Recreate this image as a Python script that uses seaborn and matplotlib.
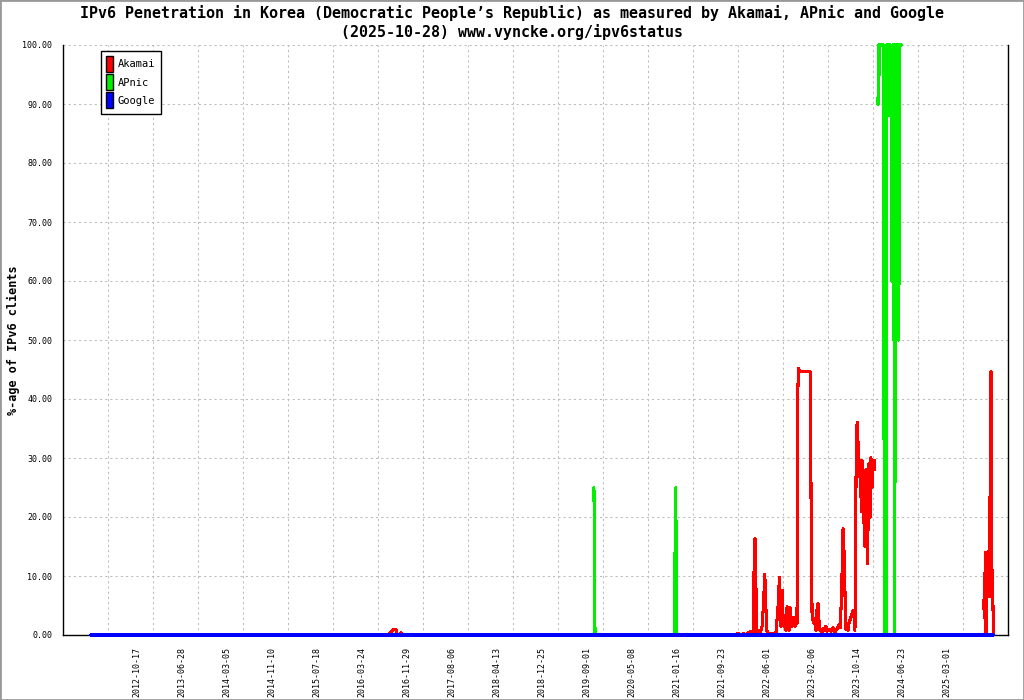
import numpy as np
import pandas as pd
import matplotlib
matplotlib.use("Agg")
import matplotlib.pyplot as plt
import matplotlib.transforms as mtransforms
from matplotlib.patches import Patch, Rectangle
from matplotlib.ticker import FormatStrFormatter
import seaborn as sns

# ---------------- data ----------------
# x axis is the sample number of the daily series (250 samples between ticks)
tick_dates = ["2012-10-17", "2013-06-28", "2014-03-05", "2014-11-10", "2015-07-18",
              "2016-03-24", "2016-11-29", "2017-08-06", "2018-04-13", "2018-12-25",
              "2019-09-01", "2020-05-08", "2021-01-16", "2021-09-23", "2022-06-01",
              "2023-02-06", "2023-10-14", "2024-06-23", "2025-03-01"]
samples_per_tick = 250
n_intervals = 21

nan = np.nan
akamai_sample = [154, 1809, 1815, 1826, 1837, 1848, 1854, 1871, 1876, 1884,
                 3737, 3748, 3754, 3782, 3787, 3809, 3821, 3832, 3837, 3843,
                 3848, 3854, 3871, 3882, 3890, 3897, 3903, 3907, 3915, 3937,
                 3959, 3973, 3978, 3983, 3987, 3993, 3998, 4004, 4009, 4015,
                 4021, 4026, 4032, 4037, 4043, 4048, 4054, 4059, 4065, 4071,
                 4076, 4081, 4084, 4090, 4151, 4154, 4160, 4165, 4171, 4176,
                 4182, 4187, 4193, 4198, 4204, 4215, 4221, 4232, 4237, 4243,
                 4254, 4265, 4276, 4287, 4298, 4309, 4315, 4323, 4332, 4340,
                 4346, 4354, 4360, 4365, 4373, 4382, 4390, 4398, 4406, 4412,
                 4418, 4423, 4429, 4433, 4437, 4443, 4446, 4450, 4454, 4459,
                 4465, 4469, 4473, 4478, 4482, 4487, 4493, 4498, 4504, 4509,
                 nan,
                 5112, 5118, 5122, 5126, 5130, 5133, 5139, 5144, 5150, 5154,
                 5158, 5162, 5167]
akamai_value = [0.0, 0.0, 0.3, 0.6, 1.0, 1.0, 0.0, 0.0, 0.4, 0.0,
                0.0, 0.3, 0.0, 0.2, 0.0, 0.4, 0.6, 0.3, 10.3, 16.3,
                8.1, 0.5, 0.3, 1.5, 5.1, 10.3, 5.1, 0.8, 0.3, 0.2,
                0.3, 5.6, 9.8, 3.8, 1.4, 7.6, 3.5, 1.4, 2.0, 0.8,
                4.8, 4.6, 0.8, 4.7, 1.4, 2.0, 3.0, 2.5, 1.4, 2.6,
                2.0, 41.5, 45.2, 44.6, 44.6, 23.6, 2.7, 2.7, 2.0, 2.8,
                0.8, 4.2, 5.3, 2.5, 0.8, 0.5, 1.1, 0.8, 1.5, 0.6,
                1.0, 0.6, 1.2, 0.5, 1.0, 1.7, 1.2, 6.0, 18.0, 12.1,
                1.0, 1.4, 0.8, 2.0, 2.8, 3.7, 4.2, 0.8, 35.0, 36.0,
                29.0, 26.8, 29.6, 21.0, 29.6, 28.0, 19.0, 24.0, 15.0, 28.0,
                24.0, 12.1, 29.0, 27.0, 20.0, 30.0, 25.0, 29.5, 28.0, 29.5,
                nan,
                5.9, 2.9, 14.0, 0.0, 14.0, 9.6, 14.2, 6.5, 28.8, 44.7,
                7.0, 11.0, 0.4]

apnic_sample = [2948, 2951, 2954, 3393, 3398, 3403, 3406,
                nan,
                4526, 4529, 4533, 4537, 4557, 4561, 4571, 4575, 4579, 4583,
                4587, 4593, 4597, 4604, 4607, 4611, 4615, 4618, 4621, 4624,
                4628, 4632, 4635, 4639, 4642, 4645, 4654]
apnic_value = [25.0, 12.5, 0.0, 0.0, 12.5, 25.0, 0.0,
               nan,
               90.0, 100.0, 95.0, 100.0, 100.0, 0.0, 0.0, 100.0, 100.0, 88.0,
               100.0, 94.0, 100.0, 60.0, 100.0, 50.0, 100.0, 0.0, 33.0, 100.0,
               50.0, 100.0, 66.0, 100.0, 50.0, 100.0, 100.0]

google_sample = [154, 5167]
google_value = [0.0, 0.0]

series_names = ["Akamai", "APnic", "Google"]
series_colors = ["#ff0000", "#00f000", "#0000ff"]

title_line1 = "IPv6 Penetration in Korea (Democratic People\u2019s Republic) as measured by Akamai, APnic and Google"
title_line2 = "(2025-10-28) www.vyncke.org/ipv6status"
y_label = "%-age of IPv6 clients"


def to_frame(samples, values):
    rows, seg = [], 0
    for s, v in zip(samples, values):
        if np.isnan(s) or np.isnan(v):
            seg += 1
            continue
        rows.append((s, v, seg))
    return pd.DataFrame(rows, columns=["sample", "value", "seg"])


# ---------------- style ----------------
sns.set_theme(style="white")
plt.rcParams["font.family"] = ["DejaVu Sans Mono", "DejaVu Sans"]
plt.rcParams["text.color"] = "black"
plt.rcParams["axes.labelcolor"] = "black"

fig = plt.figure(figsize=(10.24, 7), dpi=100)
fig.patch.set_facecolor("white")
ax = fig.add_axes([63.3 / 1024, 65 / 700, 945 / 1024, 590 / 700])
ax.set_facecolor("white")

frames = [to_frame(akamai_sample, akamai_value),
          to_frame(apnic_sample, apnic_value),
          to_frame(google_sample, google_value)]
for df, col in zip(frames, series_colors):
    sns.lineplot(data=df, x="sample", y="value", units="seg", estimator=None,
                 sort=False, color=col, linewidth=1.5, antialiased=False,
                 ax=ax, legend=False, zorder=3, clip_on=False)

ax.set_xlim(0, samples_per_tick * n_intervals)
ax.set_ylim(0, 100)
ax.set_xlabel("")
ax.set_ylabel("")

xt = np.arange(0, samples_per_tick * n_intervals + 1, samples_per_tick)
ax.set_xticks(xt)
ax.set_xticklabels(["", ""] + tick_dates + [""], rotation=90)
ax.set_yticks(np.arange(0, 101, 10))
ax.yaxis.set_major_formatter(FormatStrFormatter("%.2f"))

ax.tick_params(axis="x", direction="out", length=3.6, width=1, pad=4.8,
               labelsize=6, colors="black")
ax.tick_params(axis="y", direction="inout", length=6, width=1, pad=4.9,
               labelsize=6, colors="black")
offset = mtransforms.ScaledTranslation(-16.6 / 100, 0, fig.dpi_scale_trans)
for lab in ax.get_xticklabels():
    lab.set_transform(lab.get_transform() + offset)

ax.grid(True, color="#bbbbbb", linestyle=(0, (2, 3)), linewidth=0.75)
ax.set_axisbelow(True)

for side in ["left", "bottom", "right"]:
    ax.spines[side].set_visible(True)
    ax.spines[side].set_color("black")
    ax.spines[side].set_linewidth(1)
    ax.spines[side].set_zorder(2.5)
ax.spines["top"].set_visible(False)

handles = [Patch(facecolor=c, edgecolor="black", linewidth=1, label=n)
           for n, c in zip(series_names, series_colors)]
leg = ax.legend(handles=handles, loc="upper left", bbox_to_anchor=(0.0396, 0.9903),
                borderaxespad=0, fontsize=7.5, handlelength=0.6, handleheight=1.9,
                handletextpad=0.45, labelspacing=0.25, borderpad=0.55,
                frameon=True, fancybox=False, edgecolor="black", framealpha=1)
leg.get_frame().set_linewidth(1)
leg.set_zorder(5)
for t in leg.get_texts():
    t.set_color("black")

fig.text(0.5, 1 - 18.3 / 700, title_line1, ha="center", va="baseline",
         fontsize=10.8, fontweight="bold", color="black")
fig.text(0.5, 1 - 37.0 / 700, title_line2, ha="center", va="baseline",
         fontsize=10.8, fontweight="bold", color="black")
fig.text(13 / 1024, 1 - 340 / 700, y_label, rotation=90, ha="center", va="center",
         fontsize=8.5, fontweight="bold", color="black")

fig.patches.append(Rectangle((0, 0), 1, 1, transform=fig.transFigure, fill=False,
                             edgecolor="#999999", linewidth=2))

fig.savefig("out.png", dpi=100)
